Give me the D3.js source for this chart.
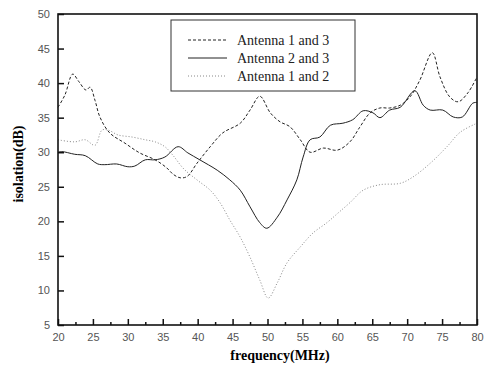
<!DOCTYPE html>
<html>
<head>
<meta charset="utf-8">
<script src="https://cdn.jsdelivr.net/npm/d3@7"></script>
<style>
  body { margin: 0; background: #fff; }
  .tick text { font-family: "Liberation Sans", Arial, sans-serif; font-size: 11px; fill: #555; }
</style>
</head>
<body>
<svg id="chart" width="484" height="370"></svg>
<script>
// Antenna 1 and 3 (dashed)
const freq13 = [20, 21, 22.1, 23, 24, 24.6, 25.3, 26, 27.4, 29.6, 31.7, 33.9, 35.5, 36.5, 37.5, 38.5, 39.9, 41.8, 43.6, 46.1, 47.5, 48.9, 50.4, 51.8, 53.2, 54.7, 56.1, 58, 60, 61.8, 63.2, 64.7, 66.1, 67.5, 69, 70.4, 71.8, 73.6, 74.7, 76.1, 77.3, 78.7, 80];
const iso13  = [36.5, 38.3, 41.3, 40.2, 39, 39.4, 37.5, 35.1, 32.8, 31.3, 29.9, 28.9, 27.8, 26.8, 26.3, 26.5, 28.4, 30.8, 32.8, 34.2, 36.1, 38.1, 35.7, 34.4, 33.7, 31.8, 30.0, 30.6, 30.3, 31.5, 33.6, 35.7, 36.4, 36.4, 36.8, 38.0, 40.4, 44.4, 40.9, 38, 37.3, 38.6, 40.9];

// Antenna 2 and 3 (solid)
const freq23 = [20, 20.5, 22.4, 23.9, 25.7, 26.7, 28.4, 30, 31, 32.5, 33.9, 35.3, 37.2, 38.6, 40.3, 42.8, 44.6, 46.1, 47.5, 48.9, 49.9, 51.4, 52.8, 54.2, 55.1, 56.1, 57.5, 59, 60.8, 62.2, 63.7, 65.1, 66.1, 67.5, 69, 71.1, 72.3, 73.3, 75.1, 76.6, 77.9, 79.4, 80];
const iso23  = [30, 30.1, 29.7, 29.5, 28.3, 28.2, 28.3, 27.9, 28, 28.9, 28.9, 29.3, 30.8, 29.9, 28.9, 27.4, 26, 24.5, 22.1, 19.8, 19.0, 20.6, 23.1, 26, 29.3, 31.8, 32.2, 33.9, 34.2, 34.7, 36, 35.7, 35, 36.1, 36.5, 38.9, 36.8, 36.1, 36.1, 35.1, 35.1, 37.1, 37.2];

// Antenna 1 and 2 (dotted, light)
const freq12 = [20, 22.4, 23.9, 25.3, 26.3, 27.2, 28.6, 30.6, 32.5, 33.9, 35.3, 36.5, 38, 39.9, 41.8, 43.2, 44.6, 46.1, 47.5, 48.9, 50.1, 51.4, 52.8, 54.7, 56.5, 58.5, 60.1, 61.8, 63.7, 66.1, 69, 70.8, 73.3, 75.7, 77.6, 80];
const iso12  = [31.8, 31.5, 31.8, 31.0, 33.2, 33.2, 32.5, 32.2, 31.8, 31.5, 30.8, 29.5, 27.6, 26, 24.5, 22.7, 20.2, 17.7, 14.8, 11.5, 8.9, 11.1, 14, 16.3, 18.3, 19.8, 21.2, 22.7, 24.5, 25.3, 25.5, 26.4, 28.4, 30.8, 32.9, 34.2];

const seriesNames = ['Antenna 1 and 3', 'Antenna 2 and 3', 'Antenna 1 and 2'];
const xTicks = [20, 25, 30, 35, 40, 45, 50, 55, 60, 65, 70, 75, 80];
const yTicks = [5, 10, 15, 20, 25, 30, 35, 40, 45, 50];

const margin = { top: 14, right: 7, bottom: 45, left: 58 };
const svg = d3.select('#chart');
const width = +svg.attr('width') - margin.left - margin.right;
const height = +svg.attr('height') - margin.top - margin.bottom;

const g = svg.append('g').attr('transform', `translate(${margin.left},${margin.top})`);

const x = d3.scaleLinear().domain([20, 80]).range([0, width]);
const y = d3.scaleLinear().domain([5, 50]).range([height, 0]);

// styles per series
const styles = [
  { stroke: '#222', dash: '3,2', w: 1 },
  { stroke: '#222', dash: null, w: 1 },
  { stroke: '#888', dash: '1,2', w: 1 }
];
const data = [
  d3.zip(freq13, iso13),
  d3.zip(freq23, iso23),
  d3.zip(freq12, iso12)
];

const line = d3.line()
  .x(d => x(d[0]))
  .y(d => y(d[1]))
  .curve(d3.curveCatmullRom.alpha(0.5));

data.forEach((pts, i) => {
  g.append('path')
    .datum(pts)
    .attr('fill', 'none')
    .attr('stroke', styles[i].stroke)
    .attr('stroke-width', styles[i].w)
    .attr('stroke-dasharray', styles[i].dash)
    .attr('d', line);
});

// axes: ticks inside
const xAxis = g.append('g')
  .attr('transform', `translate(0,${height})`)
  .call(d3.axisBottom(x).tickValues(xTicks).tickSize(-6).tickPadding(8).tickFormat(d3.format('d')));
const xMinor = g.append('g')
  .attr('transform', `translate(0,${height})`)
  .call(d3.axisBottom(x).tickValues(d3.range(22.5, 80, 5)).tickSize(-3).tickFormat(''));
const yAxis = g.append('g')
  .call(d3.axisLeft(y).tickValues(yTicks).tickSize(-6).tickPadding(8).tickFormat(d3.format('d')));

[xAxis, xMinor, yAxis].forEach(a => {
  a.select('.domain').remove();
  a.selectAll('.tick line').attr('stroke', '#111').attr('stroke-width', 1.5);
});

// frame
g.append('rect')
  .attr('width', width)
  .attr('height', height)
  .attr('fill', 'none')
  .attr('stroke', '#111')
  .attr('stroke-width', 1.6);

// axis titles
svg.append('text')
  .attr('x', 280)
  .attr('y', 360)
  .attr('text-anchor', 'middle')
  .style('font-family', '"Liberation Serif", "Times New Roman", serif')
  .style('font-weight', 'bold')
  .style('font-size', '14px')
  .text('frequency(MHz)');

svg.append('text')
  .attr('transform', 'translate(23,164) rotate(-90)')
  .attr('text-anchor', 'middle')
  .style('font-family', '"Liberation Serif", "Times New Roman", serif')
  .style('font-weight', 'bold')
  .style('font-size', '14px')
  .text('isolation(dB)');

// legend
const legend = svg.append('g').attr('transform', 'translate(171,20)');
legend.append('rect')
  .attr('width', 184)
  .attr('height', 71)
  .attr('fill', '#fff')
  .attr('stroke', '#333')
  .attr('stroke-width', 1);

seriesNames.forEach((name, i) => {
  const ly = 20 + i * 18;
  legend.append('line')
    .attr('x1', 17).attr('x2', 56)
    .attr('y1', ly).attr('y2', ly)
    .attr('stroke', styles[i].stroke)
    .attr('stroke-width', styles[i].w)
    .attr('stroke-dasharray', styles[i].dash);
  legend.append('text')
    .attr('x', 66)
    .attr('y', ly + 4.5)
    .style('font-family', '"Liberation Serif", "Times New Roman", serif')
    .style('font-size', '14px')
    .style('fill', '#222')
    .text(name);
});
</script>
</body>
</html>
